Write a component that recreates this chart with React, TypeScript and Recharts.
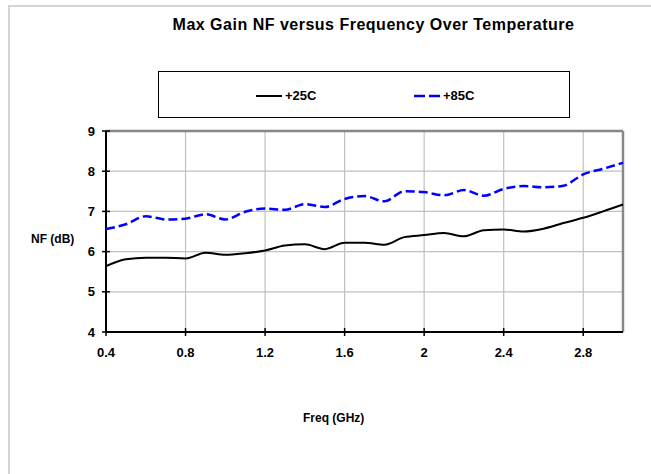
import React from "react";
import { LineChart, Line, XAxis, YAxis, CartesianGrid, ReferenceLine } from "recharts";

const freqGHz = [0.4, 0.5, 0.6, 0.7, 0.8, 0.9, 1.0, 1.1, 1.2, 1.3, 1.4, 1.5, 1.6, 1.7, 1.8, 1.9, 2.0, 2.1, 2.2, 2.3, 2.4, 2.5, 2.6, 2.7, 2.8, 2.9, 3.0];
const nf25C = [5.64, 5.81, 5.85, 5.85, 5.83, 5.97, 5.92, 5.96, 6.03, 6.15, 6.18, 6.06, 6.22, 6.22, 6.17, 6.36, 6.41, 6.46, 6.38, 6.53, 6.55, 6.5, 6.57, 6.71, 6.84, 7.0, 7.17];
const nf85C = [6.56, 6.68, 6.88, 6.8, 6.82, 6.93, 6.8, 6.99, 7.07, 7.04, 7.18, 7.11, 7.31, 7.38, 7.25, 7.5, 7.48, 7.4, 7.53, 7.39, 7.56, 7.63, 7.6, 7.64, 7.92, 8.06, 8.21];

const xTicks = [0.4, 0.8, 1.2, 1.6, 2.0, 2.4, 2.8];
const yTicks = [4, 5, 6, 7, 8, 9];

const data = freqGHz.map((f, i) => ({ f, a: nf25C[i], b: nf85C[i] }));

const FONT = '"Liberation Sans", Arial, sans-serif';
const GRID = "#c0c0c0";

// ticks in the reference cross the axis line, so draw them ourselves
const XTick = (props: any) => {
  const { x, y, payload } = props;
  return (
    <g>
      <line x1={x} x2={x} y1={y - 8} y2={y} stroke="#000" strokeWidth={1.5} />
      <text x={x} y={y + 21} textAnchor="middle" fontFamily={FONT} fontWeight="bold" fontSize={13} fill="#000">
        {payload.value}
      </text>
    </g>
  );
};

const YTick = (props: any) => {
  const { x, y, payload } = props;
  return (
    <g>
      <line x1={x} x2={x + 8} y1={y} y2={y} stroke="#000" strokeWidth={1.5} />
      <text x={x - 7} y={y + 4.5} textAnchor="end" fontFamily={FONT} fontWeight="bold" fontSize={13} fill="#000">
        {payload.value}
      </text>
    </g>
  );
};

const label: React.CSSProperties = {
  position: "absolute",
  fontFamily: FONT,
  fontWeight: "bold",
  color: "#000",
  whiteSpace: "nowrap",
  lineHeight: 1,
};

export default function App() {
  return (
    <div style={{ position: "absolute", left: 0, top: 0, width: 651, height: 474, background: "#fff", overflow: "hidden" }}>
      <div style={{ position: "absolute", left: 8, top: 5, width: 700, height: 500, borderLeft: "2px solid #d4d4d4", borderTop: "2px solid #d4d4d4" }} />

      <div style={{ ...label, left: 0, width: 747, top: 17, fontSize: 16, letterSpacing: 0.5, textAlign: "center" }}>
        Max Gain NF versus Frequency Over Temperature
      </div>

      <div style={{ position: "absolute", left: 158, top: 71, width: 410, height: 45, border: "1.5px solid #000" }}>
        <svg style={{ position: "absolute", left: 97, top: 22 }} width={28} height={4}>
          <line x1={0} x2={26} y1={2} y2={2} stroke="#000" strokeWidth={2} />
        </svg>
        <div style={{ ...label, left: 126, top: 17, fontSize: 13 }}>+25C</div>
        <svg style={{ position: "absolute", left: 255, top: 22 }} width={30} height={4}>
          <line x1={0} x2={27} y1={2} y2={2} stroke="#0000ff" strokeWidth={2.5} strokeDasharray="11 4" />
        </svg>
        <div style={{ ...label, left: 284, top: 17, fontSize: 13 }}>+85C</div>
      </div>

      <div style={{ ...label, left: 31, top: 233, fontSize: 12 }}>NF (dB)</div>
      <div style={{ ...label, left: 303, top: 412, fontSize: 12 }}>Freq (GHz)</div>

      <div style={{ position: "absolute", left: 0, top: 0 }}>
        <LineChart width={651} height={474} data={data} margin={{ top: 131, right: 28, left: 66, bottom: 112 }}>
          <CartesianGrid stroke={GRID} strokeWidth={1.2} />
          <XAxis
            dataKey="f"
            type="number"
            domain={[0.4, 3.0]}
            ticks={xTicks}
            height={30}
            tickSize={4}
            tickMargin={0}
            tickLine={false}
            axisLine={false}
            tick={<XTick />}
            interval={0}
          />
          <YAxis
            type="number"
            domain={[4, 9]}
            ticks={yTicks}
            width={40}
            tickSize={4}
            tickMargin={0}
            tickLine={false}
            axisLine={false}
            tick={<YTick />}
            interval={0}
          />
          <ReferenceLine y={9} stroke="#888" strokeWidth={2.5} />
          <ReferenceLine x={3.0} stroke="#888" strokeWidth={2.5} />
          <ReferenceLine x={0.4} stroke="#000" strokeWidth={2} />
          <ReferenceLine y={4} stroke="#000" strokeWidth={2} />
          <Line type="monotone" dataKey="a" stroke="#000" strokeWidth={2} dot={false} isAnimationActive={false} />
          <Line type="monotone" dataKey="b" stroke="#0000ff" strokeWidth={2.5} strokeDasharray="9 4" dot={false} isAnimationActive={false} />
        </LineChart>
      </div>
    </div>
  );
}
